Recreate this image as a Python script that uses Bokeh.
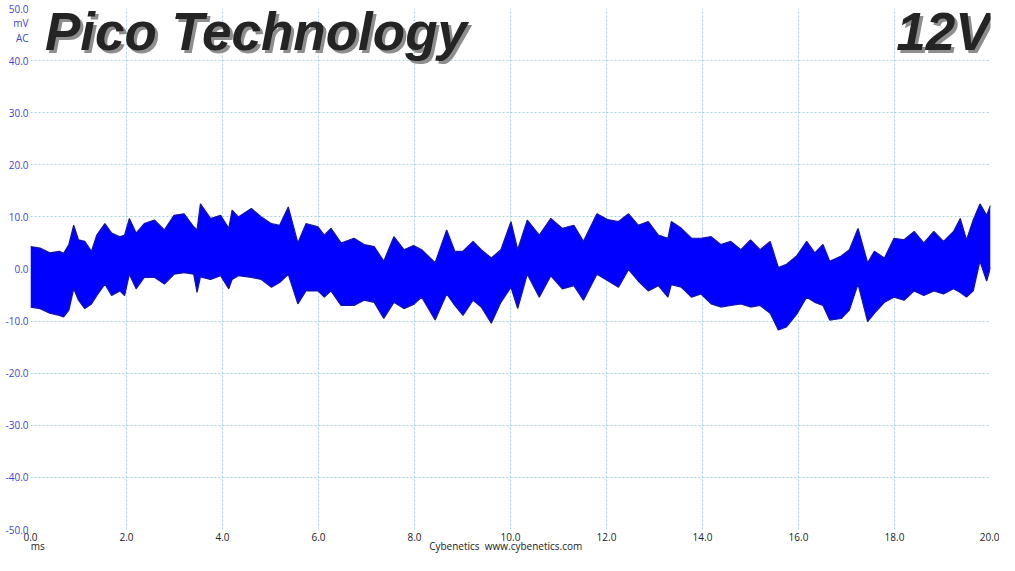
from bokeh.plotting import figure
from bokeh.models import (ColumnDataSource, Range1d, FixedTicker, NumeralTickFormatter, Label,
                          LinearAxis)
from bokeh.embed import file_html
from bokeh.resources import INLINE

# ---- data (time in ms, ripple envelope in mV) ----
t_ms = [
    0.0, 0.2, 0.4, 0.6, 0.69, 0.8, 0.9, 1.0, 1.13, 1.27,
    1.38, 1.55, 1.69, 1.86, 1.96, 2.06, 2.2, 2.37, 2.58, 2.79,
    2.99, 3.2, 3.4, 3.47, 3.54, 3.75, 3.96, 4.13, 4.2, 4.33,
    4.6, 4.81, 5.02, 5.19, 5.37, 5.57, 5.74, 5.99, 6.12, 6.26,
    6.47, 6.74, 6.95, 7.16, 7.36, 7.57, 7.78, 7.98, 8.15, 8.43,
    8.67, 8.84, 9.01, 9.22, 9.39, 9.6, 9.8, 10.01, 10.15, 10.35,
    10.6, 10.84, 11.08, 11.32, 11.52, 11.8, 12.02, 12.25, 12.46, 12.66,
    12.87, 13.08, 13.28, 13.35, 13.56, 13.77, 13.97, 14.18, 14.38, 14.59,
    14.8, 15.0, 15.2, 15.41, 15.58, 15.75, 15.96, 16.17, 16.34, 16.51,
    16.65, 16.89, 17.06, 17.24, 17.44, 17.58, 17.79, 17.99, 18.2, 18.41,
    18.61, 18.82, 19.02, 19.23, 19.37, 19.5, 19.64, 19.78, 19.92, 20.0,
]
upper_mv = [
    4.3, 4.0, 3.1, 3.4, 3.0, 4.7, 8.4, 5.6, 5.3, 3.4,
    6.5, 8.7, 6.9, 6.2, 6.5, 9.7, 6.9, 8.7, 9.4, 7.5,
    10.3, 10.6, 8.1, 7.5, 12.5, 9.7, 10.3, 7.8, 11.3, 10.0,
    11.6, 10.0, 8.7, 8.4, 11.9, 5.0, 8.7, 8.1, 6.5, 7.8,
    5.0, 5.9, 4.7, 4.3, 1.5, 6.2, 3.7, 4.5, 3.7, 1.2,
    7.5, 3.4, 3.4, 5.3, 3.7, 2.1, 3.7, 9.1, 3.7, 9.4,
    6.5, 9.7, 7.8, 8.4, 5.3, 10.6, 9.5, 9.1, 10.6, 8.4,
    9.1, 6.5, 5.9, 9.1, 7.8, 5.9, 5.9, 6.2, 4.7, 5.3,
    3.7, 5.6, 3.7, 5.3, 0.3, 0.9, 2.5, 5.3, 3.1, 4.7,
    1.5, 2.5, 3.7, 7.8, 1.2, 3.4, 2.1, 5.9, 5.6, 7.2,
    5.0, 7.2, 5.3, 7.2, 9.7, 5.6, 9.4, 12.5, 10.3, 12.2,
]
lower_mv = [
    -7.3, -7.6, -8.5, -8.9, -9.2, -7.9, -3.8, -6.0, -7.6, -6.7,
    -5.1, -2.9, -5.1, -4.2, -5.1, -1.0, -3.8, -1.6, -1.6, -2.9,
    -1.0, -0.7, -1.0, -4.5, -1.5, -2.0, -1.3, -3.8, -2.0, -1.3,
    -1.6, -2.0, -3.5, -2.6, -1.0, -6.7, -4.2, -4.2, -5.4, -4.2,
    -7.0, -7.0, -6.0, -6.4, -9.5, -6.4, -7.6, -6.8, -5.4, -9.8,
    -4.8, -7.0, -8.9, -6.0, -7.3, -10.4, -6.4, -3.5, -7.6, -1.0,
    -5.4, -1.3, -3.8, -3.2, -6.0, -1.0, -2.2, -3.5, -0.1, -2.3,
    -4.2, -3.2, -5.4, -3.0, -3.5, -5.4, -4.8, -6.7, -7.3, -7.0,
    -6.7, -7.3, -7.0, -8.5, -11.7, -11.1, -8.7, -5.4, -6.4, -7.0,
    -9.8, -9.5, -7.9, -2.9, -10.1, -8.5, -6.4, -5.4, -6.0, -4.2,
    -5.1, -4.2, -4.8, -3.8, -4.5, -5.4, -4.2, 1.5, -2.3, 0.3,
]
x_ticks = [0, 2, 4, 6, 8, 10, 12, 14, 16, 18, 20]
y_ticks = [-50, -40, -30, -20, -10, 0, 10, 20, 30, 40, 50]
title_text = "Pico Technology"
rail_text = "12V"
y_unit_text = {47.3: "mV", 44.4: "AC"}
x_footer_text = {0.15: "ms", 9.9: "Cybenetics\u00a0\u00a0www.cybenetics.com"}

src = ColumnDataSource(dict(t=t_ms, up=upper_mv, lo=lower_mv))

p = figure(width=999, height=555, output_backend="svg", toolbar_location=None,
           x_range=Range1d(0, 20), y_range=Range1d(-50, 50),
           min_border_left=30, min_border_right=9, min_border_top=8, min_border_bottom=20)
p.outline_line_color = None
p.background_fill_color = "white"
p.border_fill_color = "white"

p.varea(x="t", y1="lo", y2="up", source=src, fill_color="#0000ff")
p.line(x="t", y="up", source=src, line_color="#1414a8", line_width=1.2)
p.line(x="t", y="lo", source=src, line_color="#1414a8", line_width=1.2)

for ax in (p.xaxis[0], p.yaxis[0]):
    ax.axis_line_color = None
    ax.major_tick_line_color = None
    ax.minor_tick_line_color = None
    ax.major_tick_out = 0
    ax.major_tick_in = 0
    ax.minor_tick_out = 0
    ax.minor_tick_in = 0
    ax.major_label_text_font = "Open Sans"
    ax.major_label_text_font_size = "10px"
    ax.formatter = NumeralTickFormatter(format="0.0")
p.xaxis.ticker = FixedTicker(ticks=x_ticks)
p.yaxis.ticker = FixedTicker(ticks=y_ticks + list(y_unit_text.keys()))
p.yaxis.major_label_overrides = y_unit_text
p.xaxis.major_label_text_color = "#222222"
p.yaxis.major_label_text_color = "#4444cc"
p.xaxis.major_label_standoff = 3
p.yaxis.major_label_standoff = 2

# footer row ("ms" and credit) as a second, tick-less axis below
ax2 = LinearAxis(ticker=FixedTicker(ticks=list(x_footer_text.keys())),
                 major_label_overrides=x_footer_text)
ax2.axis_line_color = None
ax2.major_tick_line_color = None
ax2.minor_tick_line_color = None
ax2.major_tick_out = 0
ax2.major_tick_in = 0
ax2.minor_tick_out = 0
ax2.minor_tick_in = 0
ax2.major_label_standoff = -5
ax2.major_label_text_font = "Open Sans"
ax2.major_label_text_font_size = "10px"
ax2.major_label_text_color = "#222222"
p.add_layout(ax2, "below")

for g in (p.xgrid[0], p.ygrid[0]):
    g.grid_line_color = "#a9d2de"
    g.grid_line_dash = "2 2"
    g.grid_line_width = 1
p.xgrid.ticker = FixedTicker(ticks=x_ticks)
p.ygrid.ticker = FixedTicker(ticks=y_ticks)

# big titles with shadow
for txt, xx, align in ((title_text, 0.3, "left"), (rail_text, 20.0, "right")):
    p.add_layout(Label(x=xx, y=45.6, x_offset=3, y_offset=-3, text=txt, text_font="Liberation Sans",
                       text_font_size="53px", text_font_style="bold italic", text_color="#8e8e8e",
                       text_align=align, text_baseline="alphabetic"))
    p.add_layout(Label(x=xx, y=45.6, text=txt, text_font="Liberation Sans",
                       text_font_size="53px", text_font_style="bold italic", text_color="#242424",
                       text_align=align, text_baseline="alphabetic"))

open("out.html", "w").write(file_html(p, INLINE))
